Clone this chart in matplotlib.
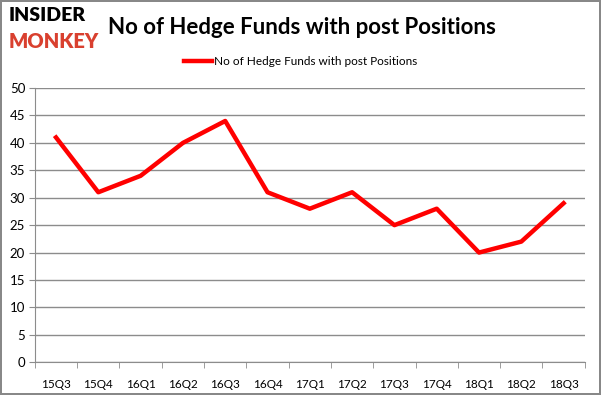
import numpy as np
import matplotlib.pyplot as plt

quarters = ['15Q3', '15Q4', '16Q1', '16Q2', '16Q3', '16Q4', '17Q1',
            '17Q2', '17Q3', '17Q4', '18Q1', '18Q2', '18Q3']
funds = [41, 31, 34, 40, 44, 31, 28, 31, 25, 28, 20, 22, 29]
series_name = 'No of Hedge Funds with post Positions'

plt.rcParams['font.family'] = ['Lato', 'DejaVu Sans']

fig = plt.figure(figsize=(6.01, 3.95), dpi=100)
fig.patch.set_edgecolor('#888888')
fig.patch.set_linewidth(1.5)

ax = fig.add_axes([0.058, 0.083, 0.915, 0.694])
x = np.arange(len(quarters))
ax.plot(x, funds, color='#ff0000', lw=3.2, label=series_name)

ax.set_xlim(-0.5, len(quarters) - 0.5)
ax.set_ylim(0, 50)
ax.set_yticks(range(0, 51, 5))
ax.yaxis.grid(True, color='#8c8c8c', lw=1)
ax.set_axisbelow(True)
ax.set_xticks(x)
ax.set_xticklabels(quarters)
ax.set_xticks(np.arange(-0.5, len(quarters)), minor=True)
ax.tick_params(axis='x', which='major', length=0, pad=12, labelsize=8.5)
ax.tick_params(axis='x', which='minor', length=4, color='#8c8c8c')
ax.tick_params(axis='y', length=4, color='#8c8c8c', labelsize=9.5, pad=3)
for s in ['top', 'right']:
    ax.spines[s].set_visible(False)
for s in ['left', 'bottom']:
    ax.spines[s].set_color('#8c8c8c')

fig.legend(loc='center', bbox_to_anchor=(0.5, 0.845), frameon=False,
           fontsize=8.5, handlelength=2.4, handletextpad=0.1)

fig.text(0.18, 0.93, 'No of Hedge Funds with post Positions', fontsize=16,
         fontweight='bold', va='center', ha='left')
fig.text(0.015, 0.96, 'INSIDER', fontsize=14, fontweight='heavy',
         color='black', va='center', ha='left')
fig.text(0.015, 0.895, 'MONKEY', fontsize=14.5, fontweight='heavy',
         color='#d9402f', va='center', ha='left')

fig.savefig('out.png', dpi=100)
